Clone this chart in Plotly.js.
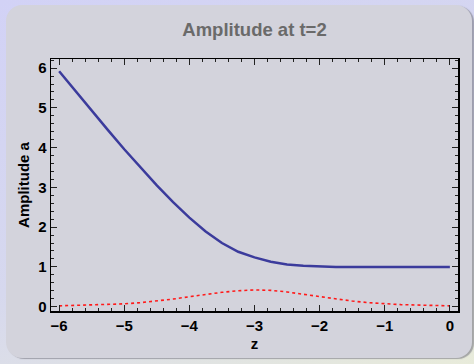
<!DOCTYPE html>
<html>
<head>
<meta charset="utf-8">
<script src="https://cdn.plot.ly/plotly-3.0.1.min.js"></script>
<style>
  html, body { margin: 0; padding: 0; width: 474px; height: 364px; overflow: hidden;
    background: linear-gradient(160deg, #d2d2f6 0%, #d6d8ee 55%, #e8ebda 100%); }
  #panel { position: absolute; left: 6px; top: 5px; width: 466px; height: 353px;
    background: #d3d3dc; border-radius: 16px; box-shadow: 2px 1px 1px rgba(120,120,130,0.6); }
  #chart { position: absolute; left: 0; top: 0; width: 474px; height: 364px; }
</style>
</head>
<body>
<div id="panel"></div>
<div id="chart"></div>
<script>
const z = [-6, -5.75, -5.5, -5.25, -5, -4.75, -4.5, -4.25, -4, -3.75, -3.5, -3.25, -3,
           -2.75, -2.5, -2.25, -2, -1.75, -1.5, -1.25, -1, -0.75, -0.5, -0.25, 0];
const amplitude = [5.92, 5.42, 4.93, 4.44, 3.96, 3.50, 3.05, 2.63, 2.24, 1.89, 1.60, 1.38, 1.24,
                   1.13, 1.06, 1.03, 1.01, 1.0, 1.0, 1.0, 1.0, 1.0, 1.0, 1.0, 1.0];
const secondary = [0.02, 0.03, 0.04, 0.05, 0.07, 0.10, 0.14, 0.19, 0.25, 0.31, 0.36, 0.40, 0.42,
                   0.41, 0.37, 0.31, 0.25, 0.19, 0.14, 0.10, 0.07, 0.05, 0.04, 0.03, 0.02];
const xTicks = [-6, -5, -4, -3, -2, -1, 0];
const yTicks = [0, 1, 2, 3, 4, 5, 6];

const fam = '"Liberation Sans", Arial, Helvetica, sans-serif';

const traces = [
  {x: z, y: amplitude, mode: 'lines', line: {color: '#3b3b9c', width: 2.5}, hoverinfo: 'skip'},
  {x: z, y: secondary, mode: 'lines', line: {color: '#ff1a1a', width: 1.6, dash: 'dot'}, hoverinfo: 'skip'}
];

const axisCommon = {
  showgrid: false, zeroline: false, showline: true, linecolor: '#000', linewidth: 1.5,
  mirror: 'allticks', ticks: 'inside', ticklen: 6, tickwidth: 1.2, tickcolor: '#222',
  tickfont: {family: fam, size: 15, color: '#000', weight: 'bold'}
};

const layout = {
  width: 474, height: 364,
  margin: {l: 51, r: 16, t: 59, b: 53},
  paper_bgcolor: 'rgba(0,0,0,0)', plot_bgcolor: 'rgba(0,0,0,0)',
  showlegend: false,
  font: {family: fam, size: 14, color: '#000'},
  title: {text: 'Amplitude at t=2', x: 0.5, xref: 'paper', y: 0.92, yref: 'container', yanchor: 'middle',
          font: {family: fam, size: 18.5, color: '#6a6a6a', weight: 'bold'}},
  xaxis: Object.assign({}, axisCommon, {
    range: [-6.125, 0.125], tickvals: xTicks, ticktext: xTicks.map(v => v < 0 ? '\u2212' + Math.abs(v) : String(v)),
    minor: {dtick: 0.2, tick0: 0, ticks: 'inside', ticklen: 3, tickcolor: '#222', tickwidth: 1},
    title: {text: 'z', standoff: 6, font: {family: fam, size: 15, color: '#000', weight: 'bold'}}
  }),
  yaxis: Object.assign({}, axisCommon, {
    range: [-0.11, 6.23], tickvals: yTicks,
    minor: {dtick: 0.2, tick0: 0, ticks: 'inside', ticklen: 3, tickcolor: '#222', tickwidth: 1},
    title: {text: 'Amplitude a', standoff: 5, font: {family: fam, size: 15, color: '#000', weight: 'bold'}}
  })
};

Plotly.newPlot('chart', traces, layout, {displayModeBar: false, staticPlot: true});
</script>
</body>
</html>
